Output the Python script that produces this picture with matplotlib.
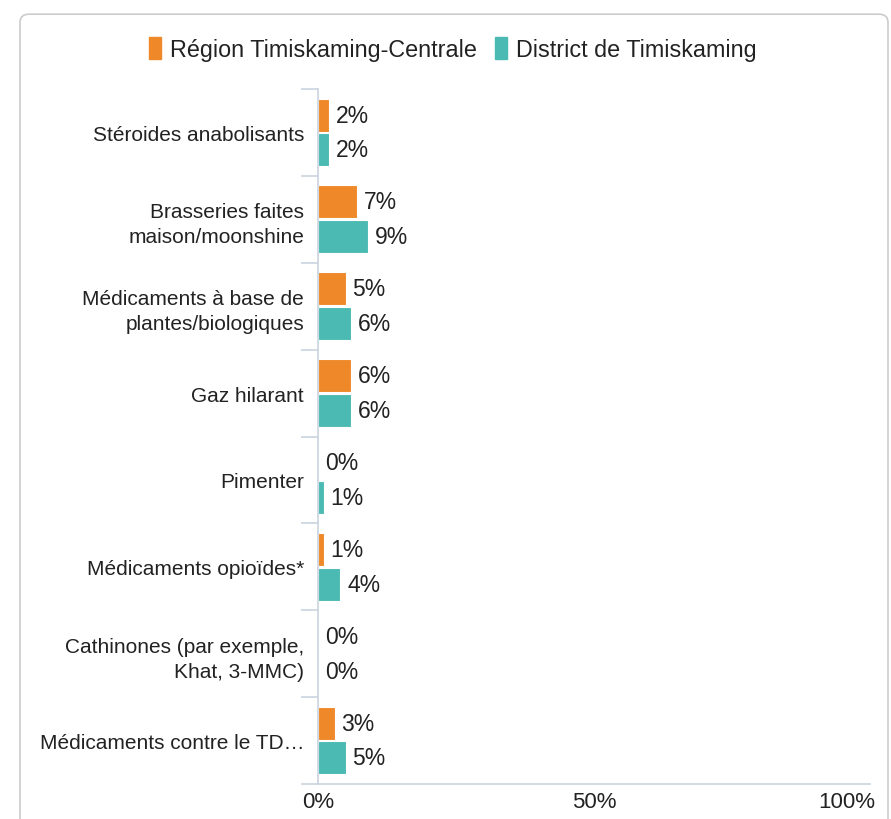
import matplotlib.pyplot as plt
from matplotlib.patches import FancyBboxPatch, Patch
from matplotlib import transforms

categories = ['Stéroides anabolisants', 'Brasseries faites\nmaison/moonshine',
              'Médicaments à base de\nplantes/biologiques', 'Gaz hilarant', 'Pimenter',
              'Médicaments opioïdes*', 'Cathinones (par exemple,\nKhat, 3-MMC)',
              'Médicaments contre le TD…']
region = [2, 7, 5, 6, 0, 1, 0, 3]
district = [2, 9, 6, 6, 1, 4, 0, 5]
series_names = ['Région Timiskaming-Centrale', 'District de Timiskaming']
x_ticks = [0, 50, 100]

orange = '#EF8828'
teal = '#4BBAB3'
axis_col = '#c9d3df'
text_col = '#222222'

plt.rcParams['font.family'] = ['Liberation Sans', 'DejaVu Sans']

fig = plt.figure(figsize=(8.91, 8.20), dpi=100)
# rounded frame around the chart
frame = FancyBboxPatch((20 / 891, -0.05), 868 / 891, 1.04 - 7 / 820,
                       boxstyle='round,pad=0,rounding_size=0.01',
                       transform=fig.transFigure, fc='white', ec='#cccccc', lw=1.2, zorder=-5)
fig.patches.append(frame)

ax = fig.add_axes([318 / 891, 1 - 785 / 820, 552 / 891, 695 / 820])
ax.set_facecolor('none')
ys = range(len(categories))
h = 0.38
ax.barh([y - 0.2 for y in ys], region, height=h, color=orange, edgecolor='white', lw=0.8)
ax.barh([y + 0.2 for y in ys], district, height=h, color=teal, edgecolor='white', lw=0.8)

for y, r, d in zip(ys, region, district):
    ax.annotate(f'{r}%', (r, y - 0.2), xytext=(5, 0), textcoords='offset points',
                va='center', ha='left', fontsize=16.5, color=text_col)
    ax.annotate(f'{d}%', (d, y + 0.2), xytext=(5, 0), textcoords='offset points',
                va='center', ha='left', fontsize=16.5, color=text_col)

ax.set_xlim(0, 100)
ax.set_ylim(len(categories) - 0.5, -0.5)
ax.set_yticks(list(ys))
ax.set_yticklabels(categories, fontsize=15, color=text_col, linespacing=1.4)
ax.set_yticks([y - 0.5 for y in range(len(categories) + 1)], minor=True)
ax.tick_params(axis='y', which='major', length=0, pad=10)
ax.tick_params(axis='y', which='minor', length=12, color=axis_col, width=1.2)
ax.set_xticks(x_ticks)
ax.set_xticklabels([f'{t}%' for t in x_ticks], fontsize=16, color=text_col)
ax.tick_params(axis='x', length=0, pad=5)
labs = ax.get_xticklabels()
labs[-1].set_ha('right')
labs[-1].set_transform(labs[-1].get_transform() + transforms.ScaledTranslation(5 / 100, 0, fig.dpi_scale_trans))
for s in ['top', 'right']:
    ax.spines[s].set_visible(False)
ax.spines['left'].set_color(axis_col)
ax.spines['bottom'].set_color(axis_col)
ax.spines['left'].set_linewidth(1.2)
ax.spines['bottom'].set_linewidth(1.2)

handles = [Patch(color=orange), Patch(color=teal)]
fig.legend(handles, series_names, loc='center', bbox_to_anchor=(453 / 891, 1 - 50 / 820),
           ncol=2, frameon=False, fontsize=16.8, handlelength=0.5, handleheight=1.1,
           handletextpad=0.4, columnspacing=0.8, labelcolor=text_col)

fig.savefig('out.png', dpi=100)
